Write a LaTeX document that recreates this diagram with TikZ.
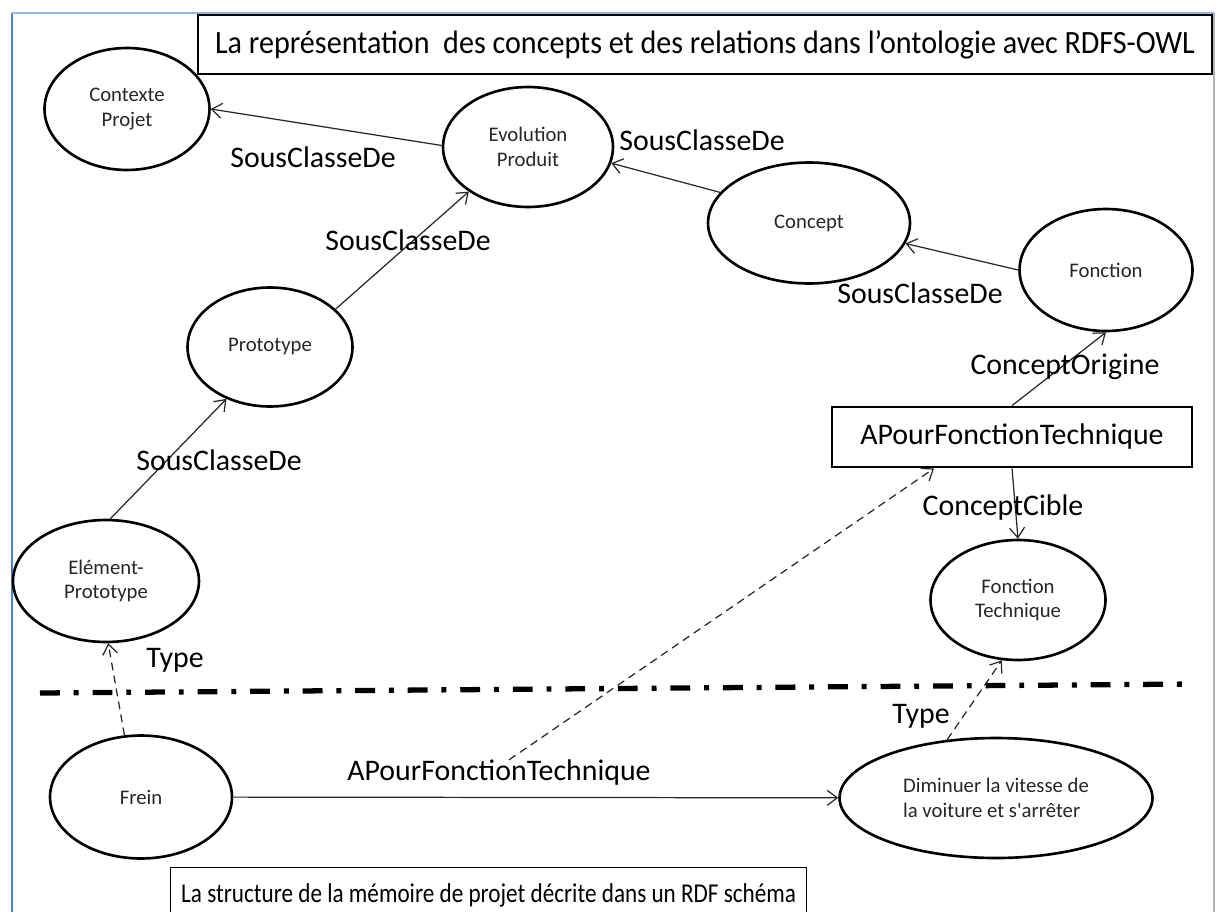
\documentclass[tikz,border=0pt]{standalone}
\usepackage{fontspec}
\setmainfont{Carlito}
\usetikzlibrary{arrows.meta,calc,shapes.geometric}
\definecolor{framedark}{RGB}{79,129,189}
\definecolor{framelight}{RGB}{149,182,222}

\begin{document}
\begin{tikzpicture}[
  x=0.02cm, y=-0.02cm,
  concept/.style={ellipse, draw, line width=1.5pt, align=center, inner sep=0pt,
    font=\fontsize{11.8}{14}\selectfont, text=black!85},
  rel/.style={-{Straight Barb[length=2mm,width=3mm]}, line width=0.7pt, black!85},
  typ/.style={rel, dash pattern=on 4.5pt off 3pt},
  lbl/.style={font=\fontsize{17}{20}\selectfont, inner sep=0pt},
  sep/.style={line width=3pt, dash pattern=on 11.3pt off 7.9pt on 2.8pt off 7.9pt},
]
\useasboundingbox (0,0) rectangle (1216,912);
\clip (0,0) rectangle (1216,912);

% === frame ===
\draw[line width=1.6pt, framedark] (12,912) -- (12,13);
\draw[line width=1.6pt, framelight] (12,13) -- (1214,13);
\draw[line width=0.8pt, gray!60] (1214,13) -- (1214,912);

% === ontologie (RDFS-OWL) ===
\node[draw, line width=0.9pt, minimum width=20.28cm, minimum height=1.18cm] (titre) at (705,44.5)
  {\resizebox{19.6cm}{\height}{\fontsize{18.5}{20}\selectfont La représentation~ des concepts et des relations dans l’ontologie avec RDFS-OWL}};

\node[concept, minimum width=3.3cm, minimum height=2.44cm] (ctx) at (127,109) {Contexte\\Projet};
\node[concept, minimum width=3.4cm, minimum height=2.4cm] (evo) at (528,147) {Evolution\\Produit};
\node[concept, minimum width=4.04cm, minimum height=2.42cm] (cpt) at (809,223) {Concept};
\node[concept, minimum width=3.46cm, minimum height=2.44cm] (fon) at (1106,270) {Fonction};
\node[concept, minimum width=3.3cm, minimum height=2.38cm] (proto) at (270,347) {Prototype};
\node[concept, minimum width=3.72cm, minimum height=2.44cm] (elt) at (106,581) {Elément-\\Prototype};
\node[concept, minimum width=3.5cm, minimum height=2.4cm] (ftech) at (1018,600) {Fonction\\Technique};

\node[draw, line width=1.6pt, minimum width=7.2cm, minimum height=1.2cm, lbl] (apf) at (1012,437) {APourFonctionTechnique};

\draw[rel] (evo.179) -- (ctx.0);
\draw[rel] (cpt.161) -- (evo.349);
\draw[rel] (proto.30) -- (evo.217);
\draw[rel] (fon.180) -- (cpt.348);
\draw[rel] (elt.86) -- (proto.230);
\draw[rel] (apf.north) -- (fon.south);
\draw[rel] (apf.south) -- (ftech.north);

\node[lbl] (l1) at (313,157) {SousClasseDe};
\node[lbl] (l2) at (702,140) {SousClasseDe};
\node[lbl] (l3) at (408,240) {SousClasseDe};
\node[lbl] (l4) at (920,293) {SousClasseDe};
\node[lbl] (l5) at (219,460) {SousClasseDe};
\node[lbl] (lorig) at (1065,367) {ConceptOrigine};
\node[lbl] (lcible) at (1003,508) {ConceptCible};

% separation
\draw[sep] (40,693) -- (1195,684);

% === memoire de projet (RDF) ===
\node[concept, minimum width=3.64cm, minimum height=2.46cm] (frein) at (141,797) {Frein};
\node[concept, minimum width=6.26cm, minimum height=2.4cm, align=left] (dim) at (996,798)
  {Diminuer la vitesse de\\la voiture et s\textquotesingle arrêter};

\node[lbl] (ltype1) at (175,660) {Type};
\node[lbl] (ltype2) at (921,716) {Type};
\node[lbl] (lapf) at (499,773) {APourFonctionTechnique};

\draw[rel] (frein) -- (dim);
\draw[typ] (frein.105) -- (elt.272);
\draw[typ] (dim.130) -- (ftech.255);
\draw[typ] ($(lapf.north)+(10,0)$) -- ($(apf.south west)!0.285!(apf.south east)$);

\node[draw, line width=0.8pt, anchor=north west, minimum width=12.72cm, minimum height=1.12cm] (memo) at (170,867)
  {\resizebox{12.3cm}{\height}{\fontsize{15.5}{20}\selectfont La structure de la mémoire de projet décrite dans un RDF schéma}};
\end{tikzpicture}
\end{document}
